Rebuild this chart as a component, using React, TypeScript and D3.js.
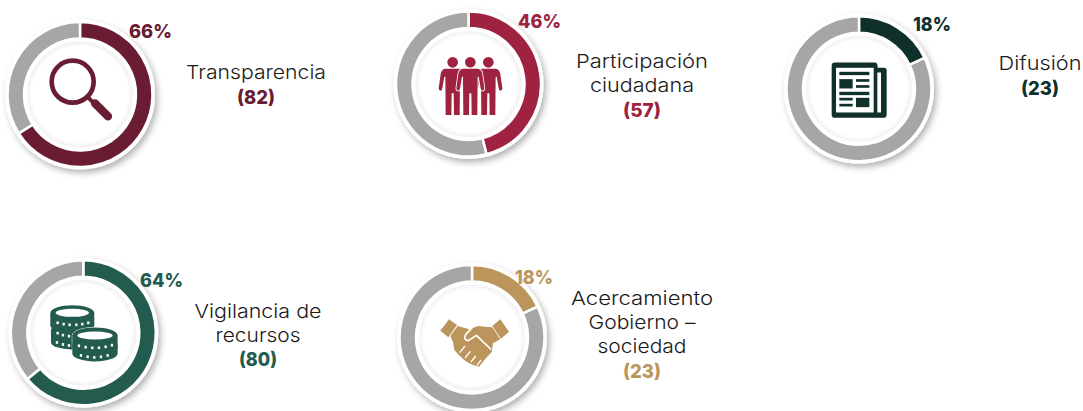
import React from "react";
import * as d3 from "d3";

const names = ["Transparencia", "Participación ciudadana", "Difusión", "Vigilancia de recursos", "Acercamiento Gobierno – sociedad"];
const percents = [66, 46, 18, 64, 18];
const counts = [82, 57, 23, 80, 23];
const colors = ["#691C32", "#9F2241", "#10312B", "#235B4E", "#BC955C"];
const nameLines = [["Transparencia"], ["Participación", "ciudadana"], ["Difusión"], ["Vigilancia de", "recursos"], ["Acercamiento", "Gobierno –", "sociedad"]];
const lineWidths = [[140], [132, 104], [83], [127, 85], [142, 107, 89]];
const pctWidths = [43, 43, 38, 43, 38];

const centers = [[80, 94.5], [468.5, 84], [859, 88.8], [83.3, 332.8], [472, 337.5]];
const pctPos = [[150.5, 38], [539.5, 28], [932, 31], [161.5, 287], [534, 284]];
const textPos = [[256, 79, 104], [642, 68, 116.5], [1040, 70, 95], [258, 318, 366], [642, 305, 378]];
const LINE_STEP = 24;
const REST = "#A6A6A6";
const FONT = "Inter, 'Noto Sans', sans-serif";

const pie = d3.pie<number>().sort(null).value((d) => d);
const arc = d3.arc<d3.PieArcDatum<number>>().innerRadius(56).outerRadius(72.5);

const Dots = ({ pts }: { pts: number[][] }) => (
  <g fill="#fff">{pts.map(([x, y], i) => <rect key={i} x={x - 3.5} y={y - 4} width={7} height={8} />)}</g>
);

function Lens({ c }: { c: string }) {
  return (
    <g transform="scale(0.3333) translate(-240,-283.5)">
      <circle cx={218} cy={245} r={63} fill="none" stroke={c} strokeWidth={14} />
      <path d="M265 293 L285 313" stroke={c} strokeWidth={12} />
      <path d="M285 310 L324 349" stroke={c} strokeWidth={25} strokeLinecap="round" />
    </g>
  );
}

const personD = "M-22 56 L22 56 Q34 58 36 72 L42 115 Q42 122 36 122 Q32 122 31 115 L25 80 L22 80 L21 195 L4 195 L3 130 L-3 130 L-4 195 L-21 195 L-22 80 L-25 80 L-31 115 Q-32 122 -36 122 Q-42 122 -42 115 L-36 72 Q-34 58 -22 56 Z";

function People({ c }: { c: string }) {
  return (
    <g transform="scale(0.3333) translate(-100.5,-102)" fill={c}>
      {[53, 160, 106].map((x, i) => (
        <g key={i} transform={`translate(${x},0)`}>
          <circle cy={37} r={16} />
          <path d={personD} stroke={i === 2 ? "#fff" : "none"} strokeWidth={5} style={{ paintOrder: "stroke" }} />
        </g>
      ))}
    </g>
  );
}

function News({ c }: { c: string }) {
  const bars = [[43, 50, 90, 10], [43, 72, 40, 28], [93, 72, 40, 8], [93, 90, 40, 8], [43, 110, 90, 10], [43, 128, 40, 8], [43, 146, 40, 8], [93, 128, 40, 28]];
  return (
    <g transform="scale(0.3333) translate(-102,-101)">
      <path fill={c} d="M20 32 Q20 22 30 22 L150 22 Q158 22 158 38 L178 38 Q185 38 185 46 L185 178 Q185 188 175 188 L30 188 Q20 188 20 178 Z" />
      <rect x={33} y={38} width={113} height={134} fill="#fff" />
      <rect x={157} y={52} width={11} height={120} fill="#fff" />
      {bars.map(([x, y, w, h], i) => <rect key={i} x={x} y={y} width={w} height={h} fill={c} />)}
    </g>
  );
}

function Coins({ c }: { c: string }) {
  const stack = (x: number, y: number, rx: number, ry: number, h: number) =>
    `M${x - rx} ${y} A${rx} ${ry} 0 0 1 ${x + rx} ${y} L${x + rx} ${y + h} A${rx} ${ry} 0 0 1 ${x - rx} ${y + h} Z`;
  return (
    <g transform="scale(0.3333) translate(-115,-104)" fill={c}>
      <path d={stack(80, 96, 62, 22, 36)} />
      <path d={stack(82, 45, 66, 24, 36)} />
      <ellipse cx={82} cy={44} rx={50} ry={12} fill="#fff" />
      <Dots pts={[[38, 74], [56, 78], [74, 80], [94, 80], [112, 78], [130, 74], [38, 105], [54, 111], [72, 114], [36, 133], [54, 139], [72, 142]]} />
      <path d={stack(150, 112, 68, 24, 36)} stroke="#fff" strokeWidth={3} style={{ paintOrder: "stroke" }} />
      <path d={stack(150, 142, 68, 24, 24)} />
      <ellipse cx={150} cy={112} rx={53} ry={12} fill="#fff" />
      <Dots pts={[[102, 143], [122, 147], [142, 149], [162, 149], [182, 146], [201, 141], [108, 172], [128, 176], [148, 178], [168, 176], [188, 172]]} />
    </g>
  );
}

function Hands({ c }: { c: string }) {
  return (
    <g transform="scale(0.3333) translate(-111,-82.5)">
      <path fill={c} d="M16 62 L42 28 L66 45 L40 82 Z" />
      <path fill={c} d="M172 48 L196 28 L222 65 L198 86 Z" />
      <path fill={c} d="M46 78 L68 48 L102 58 L130 48 L150 50 L172 52 L196 88 L174 100 L170 126 L150 148 L132 170 L112 164 L92 154 L72 136 L58 120 L54 96 Z" />
      <path fill="none" stroke="#fff" strokeWidth={5} strokeLinejoin="round" d="M112 52 L92 74 Q84 90 100 92 L124 76 L168 118" />
      <path fill="none" stroke="#fff" strokeWidth={4} d="M74 128 L90 108 M90 144 L106 124 M108 156 L122 138 M126 166 L138 150" />
    </g>
  );
}

const icons = [Lens, People, News, Coins, Hands];

export default function App() {
  return (
    <svg width={1083} height={411} style={{ position: "absolute", left: 0, top: 0 }}>
      <defs>
        <filter id="sh" x="-20%" y="-20%" width="145%" height="145%">
          <feDropShadow dx={2.5} dy={3.5} stdDeviation={3} floodColor="#000" floodOpacity={0.3} />
        </filter>
        <radialGradient id="inner">
          <stop offset="90%" stopColor="#fff" />
          <stop offset="100%" stopColor="#f1f1f1" />
        </radialGradient>
      </defs>
      {names.map((name, i) => {
        const [cx, cy] = centers[i];
        const Icon = icons[i];
        const [px, py] = pctPos[i];
        const [tx, ty, cnt] = textPos[i];
        return (
          <g key={name}>
            <g transform={`translate(${cx},${cy})`}>
              <circle r={75} fill="#fff" filter="url(#sh)" />
              {pie([percents[i], 100 - percents[i]]).map((a, j) => (
                <path key={j} d={arc(a) ?? ""} fill={j === 0 ? colors[i] : REST} stroke="#fff" strokeWidth={2.5} />
              ))}
              <circle r={53} fill="url(#inner)" />
              <Icon c={colors[i]} />
            </g>
            <text x={px} y={py} textAnchor="middle" fontFamily={FONT} fontWeight={800} fontSize={19} fill={colors[i]}
              textLength={pctWidths[i]} lengthAdjust="spacingAndGlyphs">{percents[i]}%</text>
            {nameLines[i].map((line, k) => (
              <text key={k} x={tx} y={ty + k * LINE_STEP} textAnchor="middle" fontFamily={FONT} fontWeight={300} fontSize={19} fill="#1a1a1a"
                textLength={lineWidths[i][k]} lengthAdjust="spacingAndGlyphs">{line}</text>
            ))}
            <text x={tx} y={cnt} textAnchor="middle" fontFamily={FONT} fontWeight={800} fontSize={19} fill={colors[i]}
              textLength={38} lengthAdjust="spacingAndGlyphs">({counts[i]})</text>
          </g>
        );
      })}
    </svg>
  );
}
